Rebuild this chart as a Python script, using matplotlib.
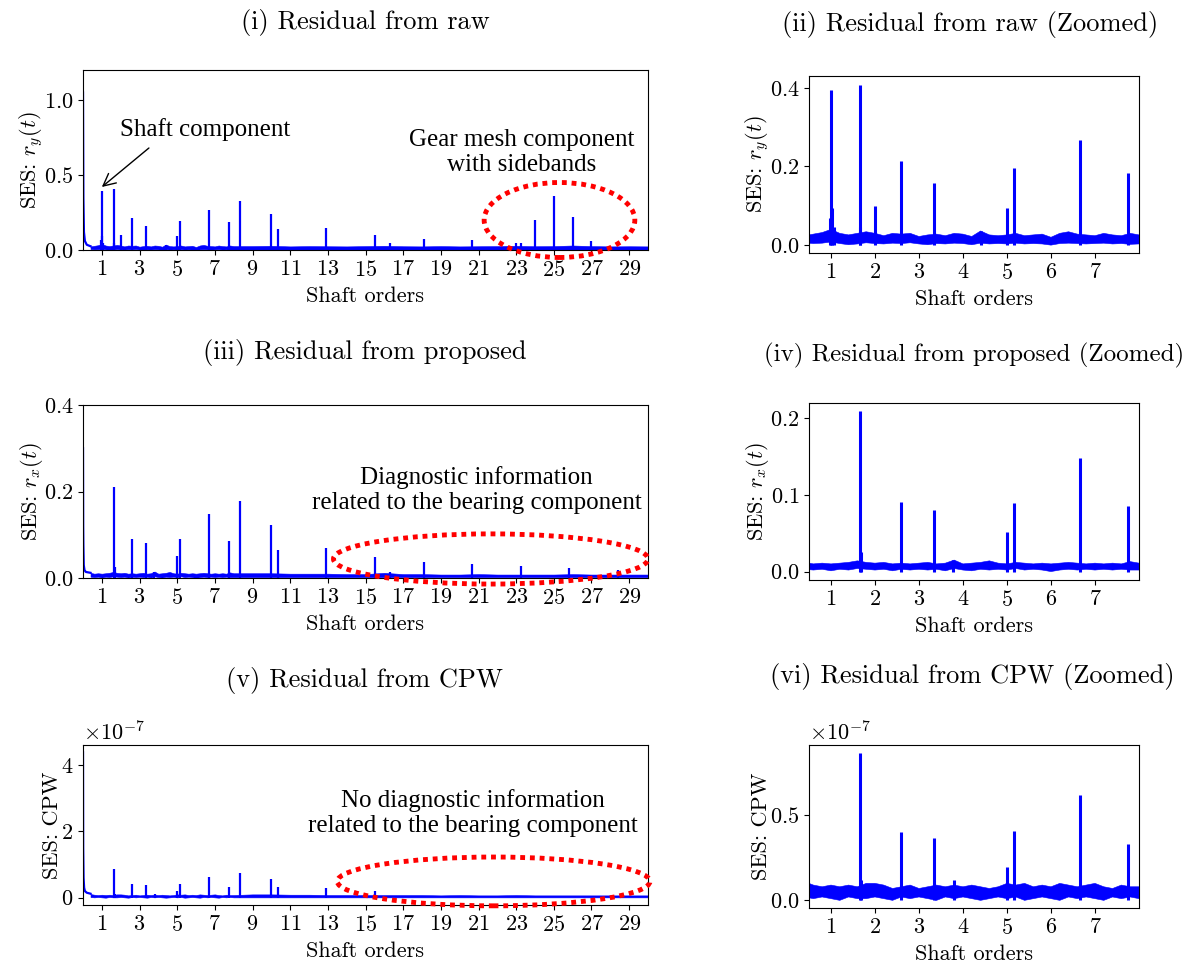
import numpy as np
import matplotlib.pyplot as plt
from matplotlib.patches import Ellipse

plt.rcParams['font.family'] = 'serif'
plt.rcParams['font.serif'] = ['cmr10']
plt.rcParams['mathtext.fontset'] = 'cm'
plt.rcParams['axes.formatter.use_mathtext'] = True
plt.rcParams['font.size'] = 16

# ---------------------------------------------------------------
# Squared envelope spectra, read per row: peaks, noise floor band, DC decay
# ---------------------------------------------------------------
floor_orders = [0.4, 0.6, 0.8, 1.0, 1.2, 1.4, 1.6, 1.8, 2.0, 2.2,
                2.4, 2.6, 2.8, 3.0, 3.2, 3.4, 3.6, 3.8, 4.0, 4.2,
                4.4, 4.6, 4.8, 5.0, 5.2, 5.4, 5.6, 5.8, 6.0, 6.2,
                6.4, 6.6, 6.8, 7.0, 7.2, 7.4, 7.6, 7.8, 8.0,
                9, 10, 11, 12, 13, 14, 15, 16, 17, 18, 19,
                20, 21, 22, 23, 24, 25, 26, 27, 28, 29, 30]

# (i)/(ii) residual from raw signal
raw_orders = [0.98, 1.0, 1.03, 1.06, 1.65, 1.67, 2.0, 2.58, 3.33, 4.42,
              5.0, 5.17, 6.67, 7.75, 8.33, 10.0, 10.33, 12.92, 15.5, 16.3,
              18.08, 20.67, 23.0, 23.25, 24.0, 25.0, 26.0, 27.0]
raw_amps = [0.07, 0.395, 0.094, 0.045, 0.045, 0.407, 0.10, 0.214, 0.159, 0.036,
            0.094, 0.195, 0.268, 0.184, 0.33, 0.24, 0.14, 0.15, 0.10, 0.045,
            0.073, 0.07, 0.045, 0.05, 0.20, 0.36, 0.22, 0.062]
raw_floor_hi = [0.024, 0.028, 0.032, 0.040, 0.030, 0.026, 0.030, 0.034, 0.030, 0.024,
                0.030, 0.028, 0.030, 0.022, 0.026, 0.028, 0.024, 0.030, 0.028, 0.022,
                0.036, 0.026, 0.024, 0.026, 0.030, 0.024, 0.026, 0.028, 0.020, 0.030,
                0.034, 0.028, 0.026, 0.024, 0.030, 0.026, 0.024, 0.030, 0.026,
                0.026, 0.028, 0.024, 0.026, 0.025, 0.024, 0.026, 0.028, 0.025, 0.024, 0.026,
                0.024, 0.025, 0.026, 0.028, 0.025, 0.026, 0.030, 0.026, 0.024, 0.025, 0.024]
raw_floor_lo = [0.006, 0.004, 0.005, 0.008, 0.004, 0.001, 0.003, 0.006, 0.004, 0.003,
                0.005, 0.004, 0.006, 0.003, 0.001, 0.004, 0.003, 0.005, 0.004, 0.001,
                0.005, 0.003, 0.004, 0.003, 0.005, 0.003, 0.004, 0.003, 0.000, 0.004,
                0.005, 0.004, 0.003, 0.004, 0.005, 0.003, 0.004, 0.002, 0.003,
                0.003, 0.003, 0.003, 0.003, 0.003, 0.003, 0.003, 0.003, 0.003, 0.003, 0.003,
                0.003, 0.003, 0.003, 0.003, 0.003, 0.003, 0.003, 0.003, 0.003, 0.003, 0.003]
raw_dc_orders = [0.0, 0.02, 0.05, 0.1, 0.2, 0.4]
raw_dc_amps = [1.05, 0.35, 0.12, 0.06, 0.035, 0.025]

# (iii)/(iv) residual from proposed method
prop_orders = [1.67, 1.69, 2.58, 3.33, 3.78, 5.0, 5.17, 6.67, 7.75, 8.33,
               10.0, 10.33, 12.92, 15.5, 16.3, 18.08, 20.67, 23.25, 25.83, 28.42]
prop_amps = [0.21, 0.025, 0.091, 0.081, 0.015, 0.051, 0.090, 0.148, 0.086, 0.178,
             0.122, 0.064, 0.069, 0.049, 0.015, 0.037, 0.033, 0.027, 0.024, 0.018]
prop_floor_hi = [0.012, 0.010, 0.011, 0.010, 0.011, 0.012, 0.014, 0.012, 0.011, 0.012,
                 0.010, 0.011, 0.010, 0.011, 0.012, 0.010, 0.011, 0.015, 0.010, 0.011,
                 0.012, 0.014, 0.011, 0.010, 0.012, 0.011, 0.010, 0.011, 0.010, 0.011,
                 0.012, 0.011, 0.010, 0.011, 0.010, 0.011, 0.010, 0.013, 0.011,
                 0.011, 0.011, 0.010, 0.010, 0.010, 0.009, 0.009, 0.012, 0.009, 0.009, 0.008,
                 0.008, 0.009, 0.008, 0.008, 0.008, 0.008, 0.009, 0.008, 0.008, 0.008, 0.008]
prop_floor_lo = [0.003, 0.002, 0.003, 0.001, 0.003, 0.002, 0.004, 0.003, 0.002, 0.003,
                 0.001, 0.003, 0.002, 0.003, 0.002, 0.003, 0.001, 0.004, 0.002, 0.001,
                 0.003, 0.002, 0.003, 0.002, 0.004, 0.002, 0.003, 0.002, 0.000, 0.002,
                 0.003, 0.002, 0.003, 0.002, 0.003, 0.002, 0.003, 0.002, 0.002,
                 0.002, 0.002, 0.002, 0.002, 0.002, 0.002, 0.002, 0.002, 0.002, 0.002, 0.002,
                 0.002, 0.002, 0.002, 0.002, 0.002, 0.002, 0.002, 0.002, 0.002, 0.002, 0.002]
prop_dc_orders = [0.0, 0.01, 0.02, 0.04, 0.08, 0.15, 0.4]
prop_dc_amps = [0.30, 0.12, 0.075, 0.03, 0.018, 0.014, 0.012]

# (v)/(vi) CPW residual, values in units of 1e-7
cpw_orders = [1.67, 1.69, 2.58, 3.33, 3.8, 5.0, 5.17, 6.67, 7.75, 8.33,
              10.0, 10.33, 12.92, 15.5]
cpw_amps = np.array([0.87, 0.12, 0.40, 0.37, 0.12, 0.196, 0.41, 0.62, 0.33, 0.73,
                     0.55, 0.33, 0.30, 0.20]) * 1e-7
cpw_floor_hi = np.array([0.11, 0.09, 0.08, 0.09, 0.08, 0.09, 0.08, 0.10, 0.10, 0.09,
                         0.07, 0.08, 0.09, 0.07, 0.08, 0.09, 0.08, 0.09, 0.08, 0.09,
                         0.08, 0.07, 0.08, 0.10, 0.09, 0.10, 0.08, 0.09, 0.08, 0.10,
                         0.09, 0.08, 0.09, 0.10, 0.08, 0.07, 0.09, 0.08, 0.08,
                         0.10, 0.10, 0.09, 0.09, 0.08, 0.08, 0.08, 0.08, 0.08, 0.08, 0.07,
                         0.08, 0.07, 0.07, 0.08, 0.07, 0.07, 0.07, 0.07, 0.07, 0.07, 0.07]) * 1e-7
cpw_floor_lo = np.array([0.02, 0.01, 0.02, 0.01, 0.00, 0.02, 0.01, 0.01, 0.02, 0.01,
                         0.00, 0.02, 0.01, 0.02, 0.01, 0.00, 0.02, 0.01, 0.02, 0.01,
                         0.00, 0.01, 0.02, 0.01, 0.02, 0.00, 0.01, 0.02, 0.01, 0.00,
                         0.02, 0.01, 0.02, 0.01, 0.00, 0.02, 0.01, 0.02, 0.01,
                         0.01, 0.01, 0.01, 0.01, 0.01, 0.01, 0.01, 0.01, 0.01, 0.01, 0.01,
                         0.01, 0.01, 0.01, 0.01, 0.01, 0.01, 0.01, 0.01, 0.01, 0.01, 0.01]) * 1e-7
cpw_dc_orders = [0.0, 0.01, 0.03, 0.06, 0.1, 0.2, 0.4]
cpw_dc_amps = np.array([4.38, 1.5, 0.6, 0.3, 0.2, 0.15, 0.12]) * 1e-7

full_ticks = [1, 3, 5, 7, 9, 11, 13, 15, 17, 19, 21, 23, 25, 27, 29]
zoom_ticks = [1, 2, 3, 4, 5, 6, 7]


def draw_spectrum(ax, orders, amps, lo, hi, dc_x, dc_y, lw):
    ax.fill_between(floor_orders, lo, hi, color='blue', lw=0.4)
    ax.plot(dc_x, dc_y, color='blue', lw=lw)
    ax.vlines(orders, 0, amps, color='blue', lw=lw)


W, H = 1185, 964
fig = plt.figure(figsize=(W / 100, H / 100), dpi=100)


def axes_px(x0, x1, y0, y1):
    return fig.add_axes([x0 / W, 1 - y1 / H, (x1 - x0) / W, (y1 - y0) / H])


ax1 = axes_px(83, 648, 70, 250)
ax2 = axes_px(809, 1139, 76, 253)
ax3 = axes_px(83, 648, 405, 578)
ax4 = axes_px(809, 1139, 403, 580)
ax5 = axes_px(83, 648, 745, 905)
ax6 = axes_px(809, 1139, 745, 908)

rows = [
    (ax1, ax2, raw_orders, raw_amps, raw_floor_lo, raw_floor_hi, raw_dc_orders, raw_dc_amps,
     r'SES: $r_y(t)$'),
    (ax3, ax4, prop_orders, prop_amps, prop_floor_lo, prop_floor_hi, prop_dc_orders, prop_dc_amps,
     r'SES: $r_x(t)$'),
    (ax5, ax6, cpw_orders, cpw_amps, cpw_floor_lo, cpw_floor_hi, cpw_dc_orders, cpw_dc_amps,
     'SES: CPW'),
]
for axl, axr, o, a, lo, hi, dx, dy, ylab in rows:
    draw_spectrum(axl, o, a, lo, hi, dx, dy, 1.6)
    draw_spectrum(axr, o, a, lo, hi, dx, dy, 2.2)
    axl.set_xlim(0, 30)
    axl.set_xticks(full_ticks)
    axr.set_xlim(0.5, 8)
    axr.set_xticks(zoom_ticks)
    for ax in (axl, axr):
        ax.set_xlabel('Shaft orders', labelpad=5)
        ax.set_ylabel(ylab, labelpad=-1)
        ax.tick_params(labelsize=16)

ax1.set_ylim(0, 1.2)
ax1.set_yticks([0, 0.5, 1.0])
ax2.set_ylim(-0.02, 0.43)
ax2.set_yticks([0, 0.2, 0.4])
ax3.set_ylim(0, 0.4)
ax3.set_yticks([0, 0.2, 0.4])
ax4.set_ylim(-0.011, 0.22)
ax4.set_yticks([0, 0.1, 0.2])
ax5.set_ylim(-0.22e-7, 4.6e-7)
ax5.set_yticks([0, 2e-7, 4e-7])
ax6.set_ylim(-0.045e-7, 0.915e-7)
ax6.set_yticks([0, 0.5e-7])
for ax in (ax5, ax6):
    ax.yaxis.get_major_formatter().set_powerlimits((-7, -7))

# panel titles
titles = [('(i) Residual from raw', 365, 22, 19),
          ('(ii) Residual from raw (Zoomed)', 970, 25, 19),
          ('(iii) Residual from proposed', 365, 352, 19),
          ('(iv) Residual from proposed (Zoomed)', 974, 355, 18),
          ('(v) Residual from CPW', 365, 681, 19),
          ('(vi) Residual from CPW (Zoomed)', 972, 677, 19)]
for t, x, y, fs in titles:
    fig.text(x / W, 1 - y / H, t, ha='center', va='center', fontsize=fs)

# annotations and highlighted regions
note = dict(family='Liberation Serif', fontsize=18, ha='center', va='center')
ax1.text(6.5, 0.80, 'Shaft component', **note)
ax1.annotate('', xy=(1.0, 0.42), xytext=(3.5, 0.68),
             arrowprops=dict(arrowstyle='->', color='black', lw=1, mutation_scale=22,
                             shrinkA=0, shrinkB=0))
ax1.text(23.3, 0.65, 'Gear mesh component\nwith sidebands', **note)
ax3.text(20.9, 0.203, 'Diagnostic information\nrelated to the bearing component', **note)
ax5.text(20.7, 2.56e-7, 'No diagnostic information\nrelated to the bearing component', **note)

ellipses = [(ax1, (25.3, 0.2), 8.0, 0.5),
            (ax3, (21.65, 0.044), 16.7, 0.116),
            (ax5, (21.8, 0.49e-7), 16.6, 1.47e-7)]
for ax, c, w, h in ellipses:
    ax.add_patch(Ellipse(c, w, h, fill=False, ec='red', lw=3.5, ls=(0, (1, 1)),
                         clip_on=False, zorder=5))

fig.savefig('out.png', dpi=100)
